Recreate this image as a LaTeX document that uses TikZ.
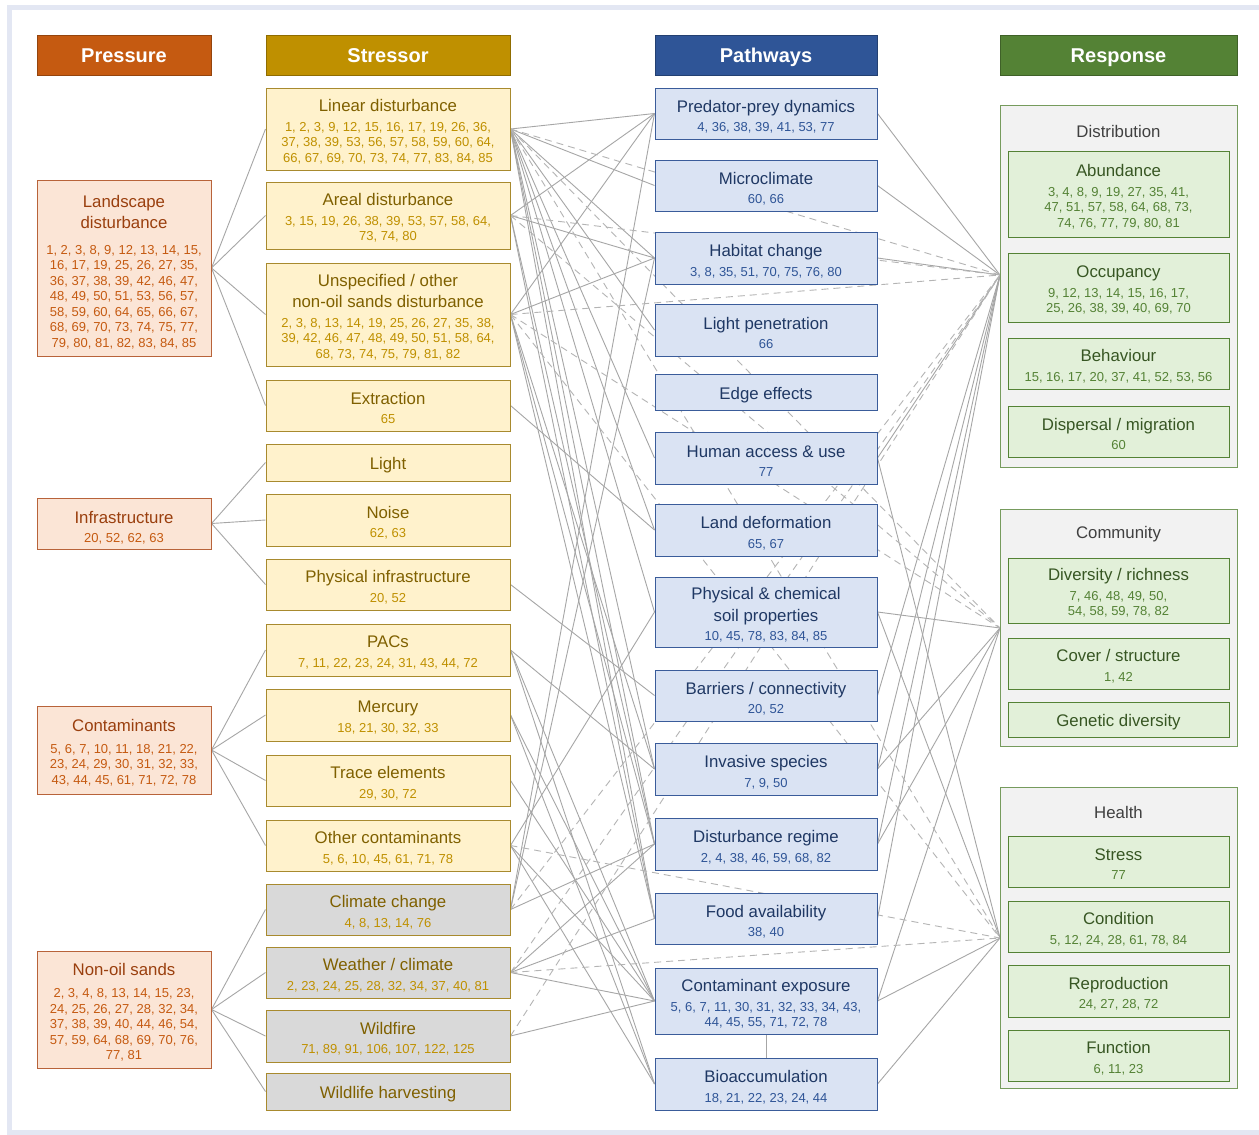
\documentclass[tikz,border=0pt]{standalone}
\usepackage{fontspec}
\setmainfont{Liberation Sans}
\setsansfont{Liberation Sans}
\usetikzlibrary{backgrounds}
\definecolor{prH}{HTML}{C55A11}
\definecolor{prF}{HTML}{FBE5D6}
\definecolor{prB}{HTML}{B8633A}
\definecolor{prT}{HTML}{9A3F0E}
\definecolor{prN}{HTML}{C55A11}
\definecolor{stH}{HTML}{BF9000}
\definecolor{stF}{HTML}{FFF2CC}
\definecolor{stB}{HTML}{A88A2E}
\definecolor{stT}{HTML}{7F6000}
\definecolor{stN}{HTML}{BF9000}
\definecolor{grF}{HTML}{D9D9D9}
\definecolor{paH}{HTML}{2F5597}
\definecolor{paF}{HTML}{DAE3F3}
\definecolor{paB}{HTML}{3A5C9A}
\definecolor{paT}{HTML}{1F3864}
\definecolor{paN}{HTML}{2F5597}
\definecolor{reH}{HTML}{548235}
\definecolor{reG}{HTML}{F2F2F2}
\definecolor{reF}{HTML}{E2F0D9}
\definecolor{reB}{HTML}{548235}
\definecolor{reT}{HTML}{375623}
\definecolor{reN}{HTML}{548235}
\definecolor{grpT}{HTML}{404040}
\definecolor{lnC}{HTML}{A6A6A6}
\definecolor{dsC}{HTML}{B4B4B4}
\definecolor{frameC}{HTML}{E3E7F3}
\newcommand\nfont{\fontsize{13}{15.5}\selectfont}
\newcommand\ttlfont{\fontsize{16.8}{20}\selectfont}
\newcommand\tP[1]{{\color{prT}\ttlfont #1}}
\newcommand\tS[1]{{\color{stT}\ttlfont #1}}
\newcommand\tA[1]{{\color{paT}\ttlfont #1}}
\newcommand\tR[1]{{\color{reT}\ttlfont #1}}
\newcommand\tshift{2.5}
\newcommand\B[7]{%
  \pgfmathsetmacro\bw{#4-#2}\pgfmathsetmacro\bh{#5-#3}%
  \pgfmathsetmacro\bcx{(#2+#4)/2}\pgfmathsetmacro\bcy{(#3+#5)/2}%
  \pgfmathsetmacro\bty{\bcy+\tshift}%
  \node[#1,minimum width=\bw pt,minimum height=\bh pt] (#6) at (\bcx,\bcy) {};
  \node[#1,draw=none,fill=none,minimum width=0pt,minimum height=0pt] at (\bcx,\bty) {#7};}
\tikzset{
  hdr/.style={draw=#1!75!black, fill=#1, text=white, font=\fontsize{20}{22}\selectfont\bfseries, inner sep=0pt, line width=0.8pt, text height=14.3pt, text depth=0pt},
  basebox/.style={line width=1pt, align=center, inner sep=0pt, font=\nfont},
  prbox/.style={basebox, draw=prB, fill=prF, text=prN},
  stbox/.style={basebox, draw=stB, fill=stF, text=stN},
  stgrey/.style={basebox, draw=stB, fill=grF, text=stN},
  pabox/.style={basebox, draw=paB, fill=paF, text=paN},
  grpbox/.style={line width=1pt, draw=reB!80!white, fill=reG},
  rebox/.style={basebox, draw=reB, fill=reF, text=reN},
  grptitle/.style={font=\ttlfont, text=grpT, inner sep=0pt},
  ln/.style={draw=lnC, line width=0.9pt},
  dl/.style={draw=dsC, line width=0.9pt, dash pattern=on 7pt off 5pt}
}
\begin{document}
\begin{tikzpicture}[x=1pt,y=-1pt]
\useasboundingbox (0,0) rectangle (1259,1135);

% headers
\begingroup\renewcommand\tshift{0}
\B{hdr=prH}{37}{35}{211}{75}{hP}{Pressure}
\B{hdr=stH}{266}{35}{510}{75}{hS}{Stressor}
\B{hdr=paH}{655}{35}{877}{75}{hA}{Pathways}
\B{hdr=reH}{1000}{35}{1237}{75}{hR}{Response}
\endgroup

% pressures
\begingroup\renewcommand\tshift{4}
\B{prbox}{37}{180}{211}{356}{pr1}{\tP{Landscape}\\[4.5pt]\tP{disturbance}\\[10pt]1, 2, 3, 8, 9, 12, 13, 14, 15,\\16, 17, 19, 25, 26, 27, 35,\\36, 37, 38, 39, 42, 46, 47,\\48, 49, 50, 51, 53, 56, 57,\\58, 59, 60, 64, 65, 66, 67,\\68, 69, 70, 73, 74, 75, 77,\\79, 80, 81, 82, 83, 84, 85}
\B{prbox}{37}{498}{211}{549}{pr2}{\tP{Infrastructure}\\[4pt]20, 52, 62, 63}
\endgroup
\B{prbox}{37}{706}{211}{794}{pr3}{\tP{Contaminants}\\[6pt]5, 6, 7, 10, 11, 18, 21, 22,\\23, 24, 29, 30, 31, 32, 33,\\43, 44, 45, 61, 71, 72, 78}
\B{prbox}{37}{951}{211}{1068}{pr4}{\tP{Non-oil sands}\\[7pt]2, 3, 4, 8, 13, 14, 15, 23,\\24, 25, 26, 27, 28, 32, 34,\\37, 38, 39, 40, 44, 46, 54,\\57, 59, 64, 68, 69, 70, 76,\\77, 81}

% stressors
\B{stbox}{266}{88}{510}{170}{s1}{\tS{Linear disturbance}\\[4pt]1, 2, 3, 9, 12, 15, 16, 17, 19, 26, 36,\\37, 38, 39, 53, 56, 57, 58, 59, 60, 64,\\66, 67, 69, 70, 73, 74, 77, 83, 84, 85}
\B{stbox}{266}{182}{510}{249}{s2}{\tS{Areal disturbance}\\[4pt]3, 15, 19, 26, 38, 39, 53, 57, 58, 64,\\73, 74, 80}
\B{stbox}{266}{263}{510}{366}{s3}{\tS{Unspecified / other}\\[4.5pt]\tS{non-oil sands disturbance}\\[4pt]2, 3, 8, 13, 14, 19, 25, 26, 27, 35, 38,\\39, 42, 46, 47, 48, 49, 50, 51, 58, 64,\\68, 73, 74, 75, 79, 81, 82}
\B{stbox}{266}{380}{510}{431}{s4}{\tS{Extraction}\\[4pt]65}
\B{stbox}{266}{444}{510}{481}{s5}{\tS{Light}}
\B{stbox}{266}{494}{510}{546}{s6}{\tS{Noise}\\[4pt]62, 63}
\B{stbox}{266}{559}{510}{610}{s7}{\tS{Physical infrastructure}\\[4pt]20, 52}
\B{stbox}{266}{624}{510}{676}{s8}{\tS{PACs}\\[4pt]7, 11, 22, 23, 24, 31, 43, 44, 72}
\B{stbox}{266}{689}{510}{741}{s9}{\tS{Mercury}\\[4pt]18, 21, 30, 32, 33}
\B{stbox}{266}{755}{510}{806}{s10}{\tS{Trace elements}\\[4pt]29, 30, 72}
\B{stbox}{266}{820}{510}{871}{s11}{\tS{Other contaminants}\\[4pt]5, 6, 10, 45, 61, 71, 78}
\B{stgrey}{266}{884}{510}{935}{s12}{\tS{Climate change}\\[4pt]4, 8, 13, 14, 76}
\B{stgrey}{266}{947}{510}{998}{s13}{\tS{Weather / climate}\\[4pt]2, 23, 24, 25, 28, 32, 34, 37, 40, 81}
\B{stgrey}{266}{1010}{510}{1062}{s14}{\tS{Wildfire}\\[4pt]71, 89, 91, 106, 107, 122, 125}
\B{stgrey}{266}{1073}{510}{1110}{s15}{\tS{Wildlife harvesting}}

% pathways
\begingroup\renewcommand\tshift{3}
\B{pabox}{655}{88}{877}{139}{p1}{\tA{Predator-prey dynamics}\\[4pt]4, 36, 38, 39, 41, 53, 77}
\B{pabox}{655}{160}{877}{211}{p2}{\tA{Microclimate}\\[4pt]60, 66}
\B{pabox}{655}{232}{877}{284}{p3}{\tA{Habitat change}\\[4pt]3, 8, 35, 51, 70, 75, 76, 80}
\B{pabox}{655}{304}{877}{356}{p4}{\tA{Light penetration}\\[4pt]66}
\B{pabox}{655}{374}{877}{410}{p5}{\tA{Edge effects}}
\B{pabox}{655}{432}{877}{484}{p6}{\tA{Human access \& use}\\[4pt]77}
\B{pabox}{655}{504}{877}{556}{p7}{\tA{Land deformation}\\[4pt]65, 67}
\B{pabox}{655}{577}{877}{647}{p8}{\tA{Physical \& chemical}\\[4.5pt]\tA{soil properties}\\[4pt]10, 45, 78, 83, 84, 85}
\B{pabox}{655}{670}{877}{721}{p9}{\tA{Barriers / connectivity}\\[4pt]20, 52}
\B{pabox}{655}{743}{877}{795}{p10}{\tA{Invasive species}\\[4pt]7, 9, 50}
\B{pabox}{655}{818}{877}{870}{p11}{\tA{Disturbance regime}\\[4pt]2, 4, 38, 46, 59, 68, 82}
\B{pabox}{655}{893}{877}{944}{p12}{\tA{Food availability}\\[4pt]38, 40}
\B{pabox}{655}{968}{877}{1034}{p13}{\tA{Contaminant exposure}\\[4pt]5, 6, 7, 11, 30, 31, 32, 33, 34, 43,\\44, 45, 55, 71, 72, 78}
\B{pabox}{655}{1058}{877}{1110}{p14}{\tA{Bioaccumulation}\\[4pt]18, 21, 22, 23, 24, 44}
\endgroup

% response groups
\B{grpbox}{1000}{105}{1237}{467}{grD}{}
\B{grpbox}{1000}{509}{1237}{746}{grC}{}
\B{grpbox}{1000}{787}{1237}{1088}{grH}{}
\node[grptitle] (tD) at (1118.5,131) {Distribution};
\node[grptitle] (tC) at (1118.5,534) {Community};
\node[grptitle] (tH) at (1118.5,812) {Health};
\B{rebox}{1008}{151}{1229}{237}{r1}{\tR{Abundance}\\[4pt]3, 4, 8, 9, 19, 27, 35, 41,\\47, 51, 57, 58, 64, 68, 73,\\74, 76, 77, 79, 80, 81}
\B{rebox}{1008}{253}{1229}{322}{r2}{\tR{Occupancy}\\[4pt]9, 12, 13, 14, 15, 16, 17,\\25, 26, 38, 39, 40, 69, 70}
\B{rebox}{1008}{338}{1229}{389}{r3}{\tR{Behaviour}\\[4pt]15, 16, 17, 20, 37, 41, 52, 53, 56}
\B{rebox}{1008}{406}{1229}{457}{r4}{\tR{Dispersal / migration}\\[4pt]60}
\B{rebox}{1008}{558}{1229}{623}{r5}{\tR{Diversity / richness}\\[4pt]7, 46, 48, 49, 50,\\54, 58, 59, 78, 82}
\B{rebox}{1008}{638}{1229}{689}{r6}{\tR{Cover / structure}\\[4pt]1, 42}
\B{rebox}{1008}{702}{1229}{737}{r7}{\tR{Genetic diversity}}
\B{rebox}{1008}{836}{1229}{887}{r8}{\tR{Stress}\\[4pt]77}
\B{rebox}{1008}{901}{1229}{952}{r9}{\tR{Condition}\\[4pt]5, 12, 24, 28, 61, 78, 84}
\B{rebox}{1008}{965}{1229}{1017}{r10}{\tR{Reproduction}\\[4pt]24, 27, 28, 72}
\B{rebox}{1008}{1030}{1229}{1081}{r11}{\tR{Function}\\[4pt]6, 11, 23}

\coordinate (fD) at (1000,275);
\coordinate (fC) at (1000,628);
\coordinate (fH) at (1000,938);

\begin{scope}[on background layer]
\fill[white] (0,0) rectangle (1259,1135);
\draw[frameC, line width=5pt] (9.5,7.5) rectangle (1270,1132.5);
% pressure -> stressor
\foreach \a/\b in {pr1/s1,pr1/s2,pr1/s3,pr1/s4,pr2/s5,pr2/s6,pr2/s7,pr3/s8,pr3/s9,pr3/s10,pr3/s11,pr4/s12,pr4/s13,pr4/s14,pr4/s15}
  \draw[ln] (\a.east) -- (\b.west);
% stressor -> pathway
\foreach \a/\b in {s1/p1,s1/p2,s1/p3,s1/p4,s1/p6,s1/p7,s1/p8,s1/p10,s1/p11,s1/p12,
  s2/p1,s2/p3,s2/p11,s2/p12,
  s3/p1,s3/p3,s3/p10,s3/p11,s3/p12,
  s4/p7,s7/p9,
  s8/p10,s8/p13,s8/p14,
  s9/p13,s9/p14,s10/p13,
  s11/p8,s11/p13,s11/p14,
  s12/p1,s12/p3,s12/p11,
  s13/p11,s13/p12,s13/p13,
  s14/p13}
  \draw[ln] (\a.east) -- (\b.west);
% pathway -> response
\foreach \a/\b in {p1/fD,p2/fD,p3/fD,p6/fD,p6/fH,p8/fC,p8/fH,p9/fD,p10/fD,p10/fC,p11/fD,p11/fC,p12/fD,p13/fC,p13/fH,p14/fH}
  \draw[ln] (\a.east) -- (\b);
% direct stressor -> response
\foreach \a/\b in {s1/fD,s1/fC,s1/fH,s2/fD,s2/fC,s3/fD,s3/fC,s3/fH,s11/fH,s12/fD,s13/fD,s13/fH,s14/fD}
  \draw[dl] (\a.east) -- (\b);
\draw[ln] (p13.south) -- (p14.north);
\end{scope}
\end{tikzpicture}
\end{document}
